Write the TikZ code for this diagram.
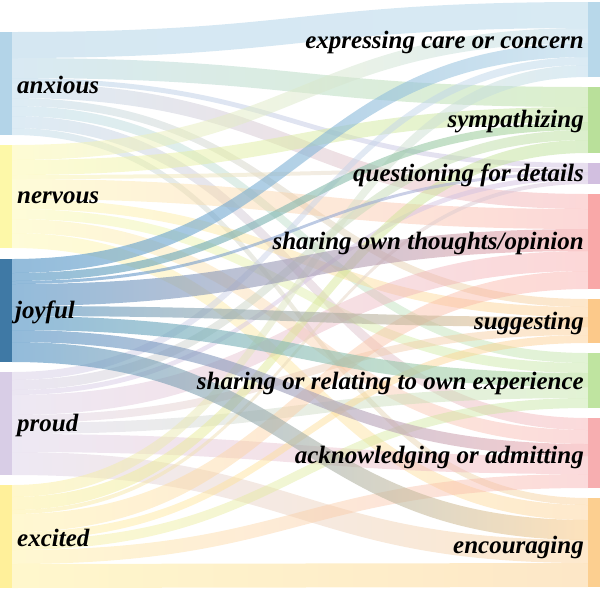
\documentclass[tikz,border=0pt]{standalone}
\usepackage{fontspec}
\setmainfont{Liberation Serif}
\definecolor{anx}{HTML}{B3D4E8}
\definecolor{ner}{HTML}{FDF8A8}
\definecolor{joy}{HTML}{4A8EC2}
\definecolor{pro}{HTML}{D8CDE6}
\definecolor{exc}{HTML}{FFF09A}
\definecolor{cE}{HTML}{B8D8EA}
\definecolor{cSy}{HTML}{B9E09A}
\definecolor{cQ}{HTML}{D2BFE0}
\definecolor{cST}{HTML}{F9A8A8}
\definecolor{cSg}{HTML}{FCC98A}
\definecolor{cR}{HTML}{BFE4A0}
\definecolor{cA}{HTML}{F7AEB0}
\definecolor{cEn}{HTML}{FCCF90}
\newcommand\flw[6]{\shade[fill opacity=#6,left color=#1,right color=#2]
 (12,#3) .. controls (300,#3) and (300,#4) .. (588,#4) -- (588,{#4+#5})
 .. controls (300,{#4+#5}) and (300,{#3+#5}) .. (12,{#3+#5}) -- cycle;}
\begin{document}
\begin{tikzpicture}[x=1pt,y=-1pt,
 lab/.style={font=\fontsize{25}{27}\selectfont\bfseries\itshape,inner sep=0pt},
 bar/.style={draw=none}]
\useasboundingbox (0,0) rectangle (600,590);
% anxious
\flw{anx}{cE}{32}{2}{26}{0.55}
\flw{anx}{cSy}{58}{87}{20}{0.5}
\flw{anx}{cQ}{78}{163}{5}{0.5}
\flw{anx}{cST}{83}{194}{15}{0.45}
\flw{anx}{cSg}{98}{299}{8}{0.45}
\flw{anx}{cR}{106}{353}{10}{0.45}
\flw{anx}{cA}{116}{418}{12}{0.45}
\flw{anx}{cEn}{128}{498}{7}{0.45}
% nervous
\flw{ner}{cE}{145}{28}{15}{0.5}
\flw{ner}{cSy}{160}{107}{15}{0.5}
\flw{ner}{cQ}{175}{168}{4}{0.5}
\flw{ner}{cST}{179}{209}{20}{0.45}
\flw{ner}{cSg}{199}{307}{10}{0.45}
\flw{ner}{cR}{209}{363}{10}{0.45}
\flw{ner}{cA}{219}{430}{14}{0.45}
\flw{ner}{cEn}{233}{505}{15}{0.45}
% proud
\flw{pro}{cE}{372}{57}{8}{0.5}
\flw{pro}{cSy}{380}{130}{10}{0.5}
\flw{pro}{cQ}{390}{175}{5}{0.5}
\flw{pro}{cST}{395}{251}{20}{0.45}
\flw{pro}{cSg}{415}{327}{8}{0.45}
\flw{pro}{cR}{423}{387}{11}{0.45}
\flw{pro}{cA}{434}{456}{18}{0.45}
\flw{pro}{cEn}{452}{540}{23}{0.45}
% excited
\flw{exc}{cE}{485}{65}{12}{0.5}
\flw{exc}{cSy}{497}{140}{13}{0.5}
\flw{exc}{cQ}{510}{180}{4}{0.5}
\flw{exc}{cST}{514}{271}{18}{0.45}
\flw{exc}{cSg}{532}{335}{8}{0.45}
\flw{exc}{cR}{540}{398}{10}{0.45}
\flw{exc}{cA}{550}{474}{14}{0.45}
\flw{exc}{cEn}{564}{563}{24}{0.5}
% joyful (highlighted)
\flw{joy}{cE}{259}{43}{14}{0.6}
\flw{joy}{cSy}{273}{122}{8}{0.6}
\flw{joy}{cQ}{281}{172}{3}{0.6}
\flw{joy}{cST}{284}{229}{22}{0.6}
\flw{joy}{cSg}{306}{317}{10}{0.6}
\flw{joy}{cR}{316}{373}{14}{0.6}
\flw{joy}{cA}{330}{444}{12}{0.6}
\flw{joy}{cEn}{342}{520}{20}{0.6}
% left bars
\fill[anx] (0,32) rectangle (12,135);
\fill[ner] (0,145) rectangle (12,248);
\fill[joy!85!black] (0,259) rectangle (12,362);
\fill[pro] (0,372) rectangle (12,475);
\fill[exc] (0,485) rectangle (12,588);
% right bars
\fill[cE] (588,2) rectangle (600,77);
\fill[cSy] (588,87) rectangle (600,153);
\fill[cQ] (588,163) rectangle (600,184);
\fill[cST] (588,194) rectangle (600,289);
\fill[cSg] (588,299) rectangle (600,343);
\fill[cR] (588,353) rectangle (600,408);
\fill[cA] (588,418) rectangle (600,488);
\fill[cEn] (588,498) rectangle (600,587);
% labels
\node[lab,anchor=west] (lanx) at (17,85) {anxious};
\node[lab,anchor=west] (lner) at (17,198) {nervous};
\node[lab,anchor=west] (ljoy) at (15,312) {joyful};
\node[lab,anchor=west] (lpro) at (17,425) {proud};
\node[lab,anchor=west] (lexc) at (17,538) {excited};
\node[lab,anchor=east] (rE) at (584,42) {expressing care or concern};
\node[lab,anchor=east] (rSy) at (584,122) {sympathizing};
\node[lab,anchor=east] (rQ) at (584,175) {questioning for details};
\node[lab,anchor=east] (rST) at (584,243) {sharing own thoughts/opinion};
\node[lab,anchor=east] (rSg) at (584,323) {suggesting};
\node[lab,anchor=east] (rR) at (584,383) {sharing or relating to own experience};
\node[lab,anchor=east] (rA) at (584,457) {acknowledging or admitting};
\node[lab,anchor=east] (rEn) at (584,547) {encouraging};
\end{tikzpicture}
\end{document}
